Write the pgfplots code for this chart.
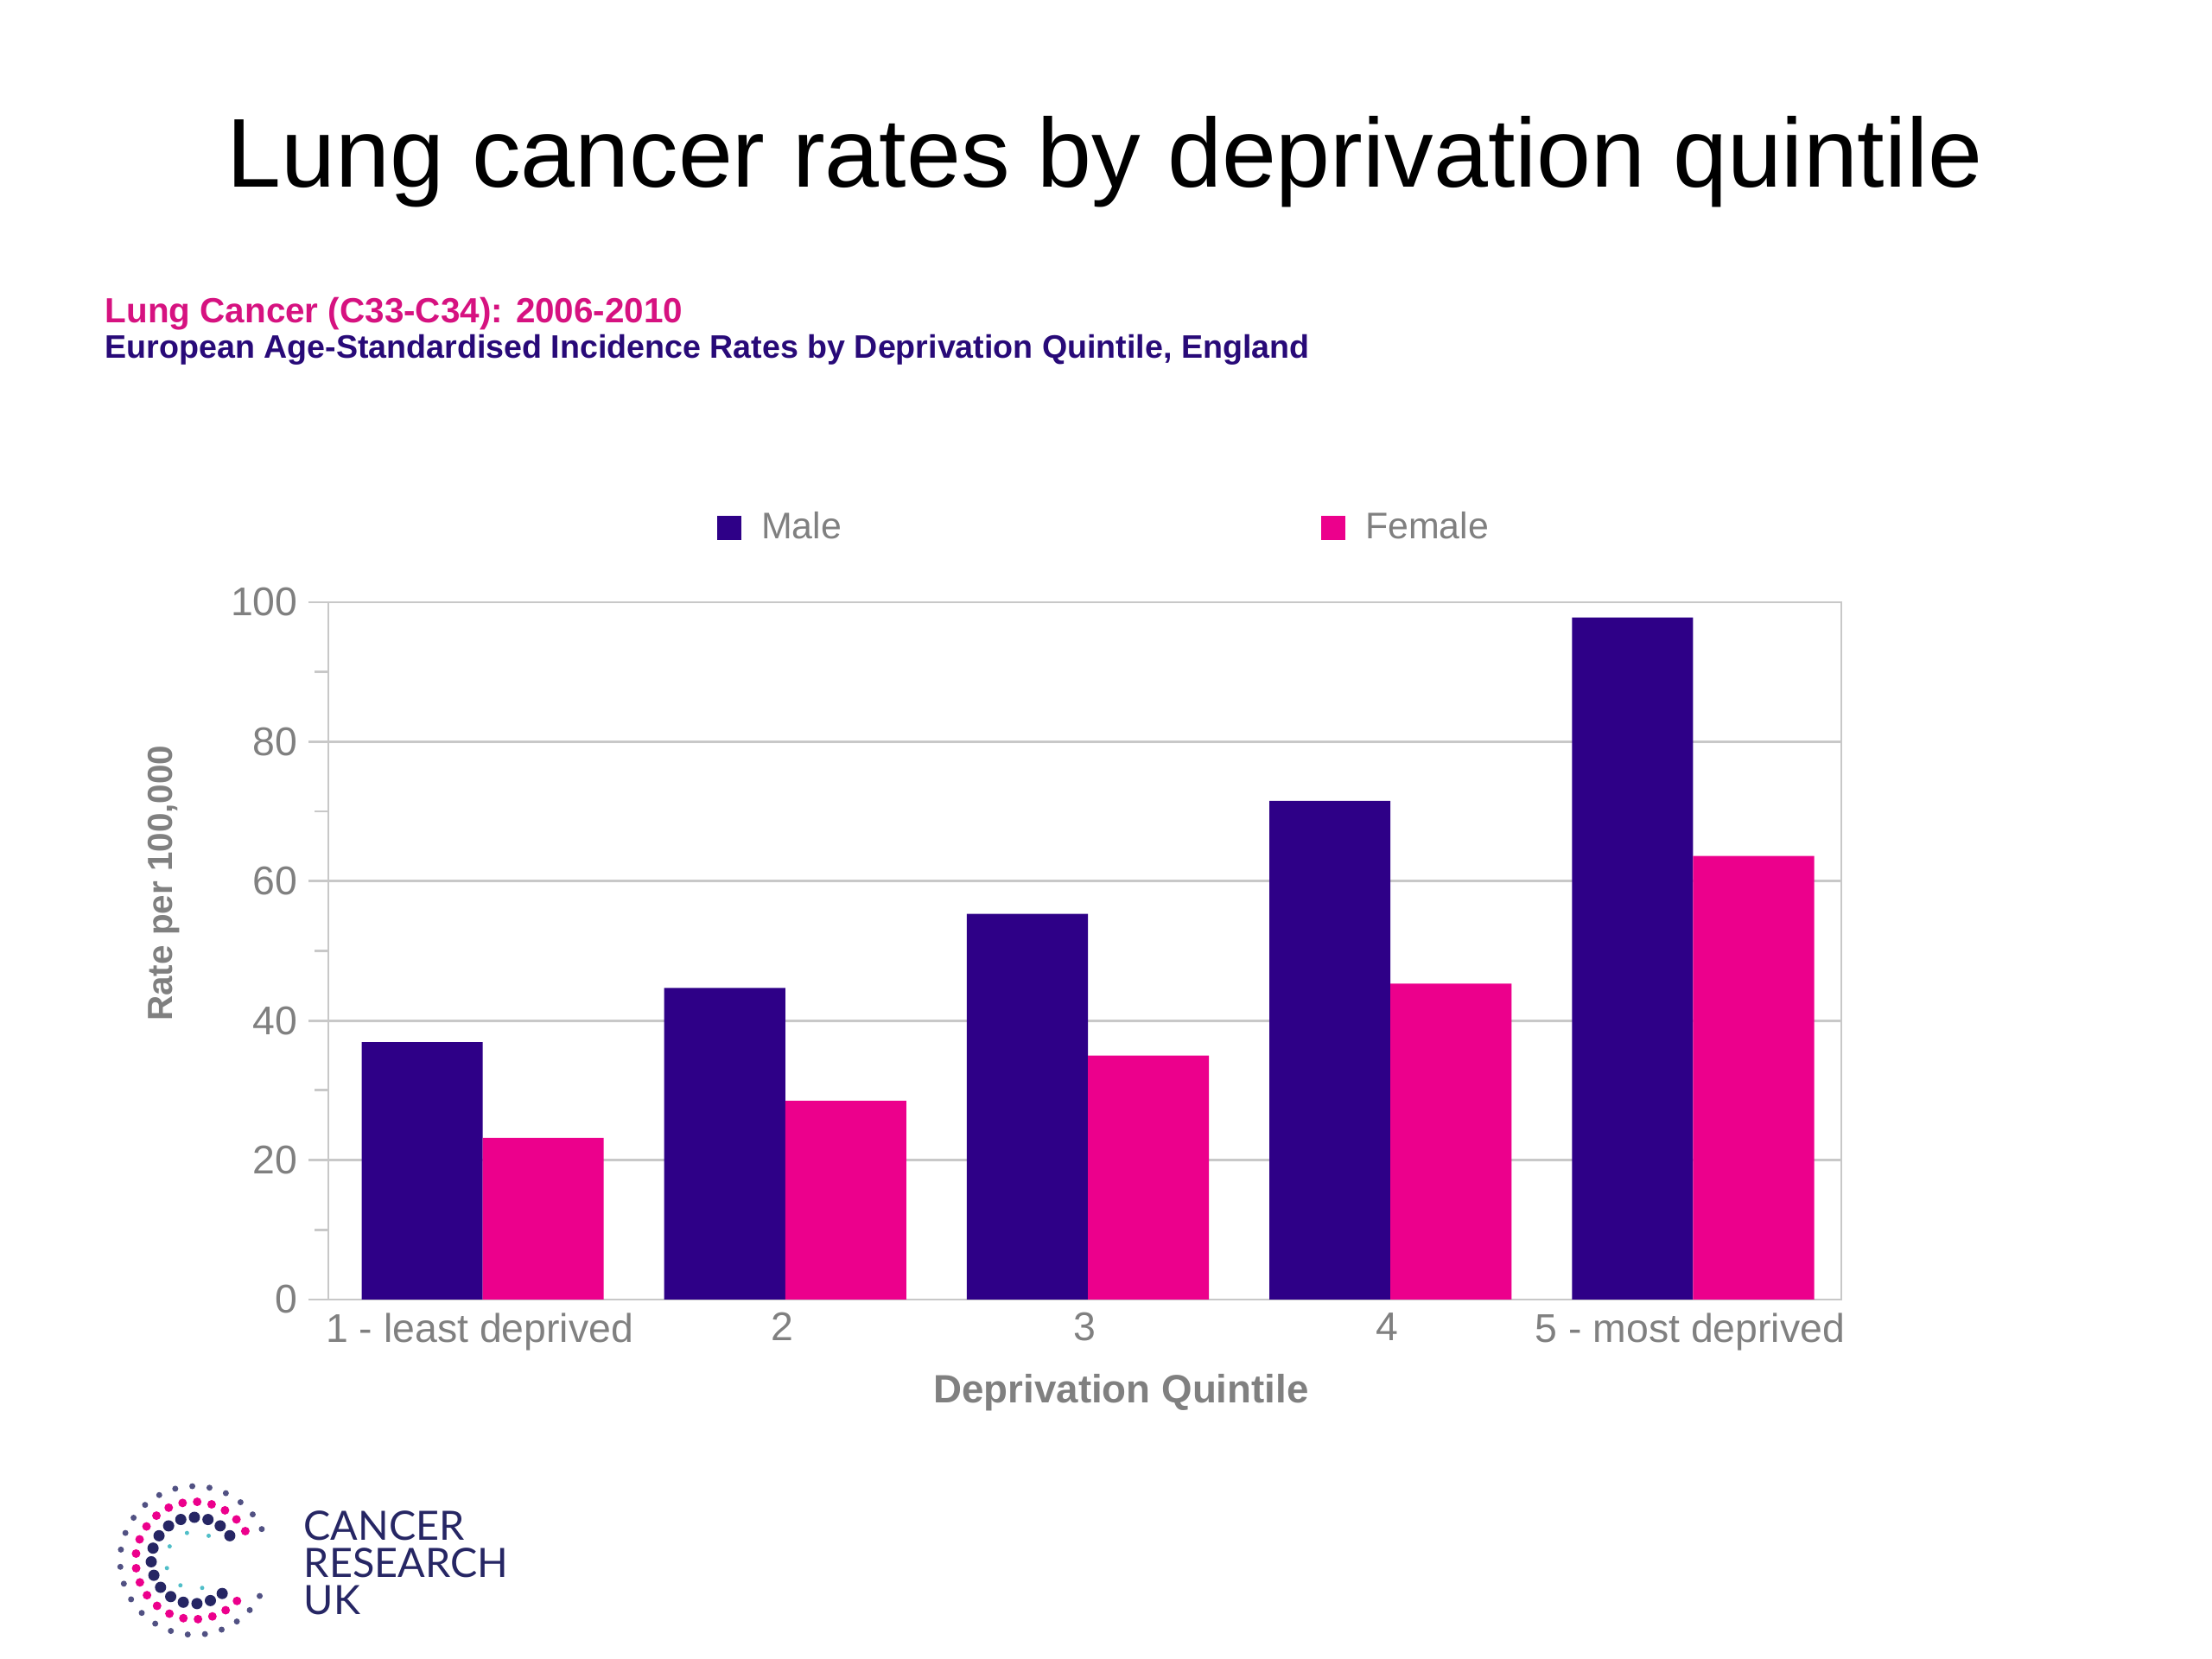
\documentclass[border=0pt]{standalone}
\usepackage{pgfplots}
\pgfplotsset{compat=1.18}
\usepackage{fontspec}
\setmainfont{Liberation Sans}
\newfontfamily\logofont{Lato}
\definecolor{male}{RGB}{46,0,135}
\definecolor{female}{RGB}{236,0,140}
\definecolor{subpink}{RGB}{214,18,128}
\definecolor{subnavy}{RGB}{40,10,120}
\definecolor{axgray}{RGB}{200,200,200}
\definecolor{txtgray}{RGB}{128,128,128}
\definecolor{logonavy}{RGB}{38,38,100}
\definecolor{logoteal}{RGB}{80,190,200}
\begin{document}
\begin{tikzpicture}
\path[use as bounding box] (0,0) rectangle (25.6,19.2);
\node[anchor=base, font=\fontsize{32.2}{38}\selectfont] at (12.79,17.03) {Lung cancer rates by deprivation quintile};
\node[anchor=base west, inner sep=0pt, font=\fontsize{11.5}{14}\selectfont\bfseries, text=subpink] at (1.21,15.46) {Lung Cancer (C33-C34): 2006-2010};
\node[anchor=base west, inner sep=0pt, font=\fontsize{10.7}{13}\selectfont\bfseries, text=subnavy] at (1.21,15.05) {European Age-Standardised Incidence Rates by Deprivation Quintile, England};
\begin{axis}[
  at={(3.80cm,4.16cm)}, anchor=south west,
  width=17.51cm, height=8.07cm, scale only axis,
  xmin=-0.5, xmax=4.5, ymin=0, ymax=100,
  xtick={0,1,2,3,4},
  xticklabels={1 - least deprived,2,3,4,5 - most deprived},
  major x tick style={draw=none},
  extra x ticks={-0.5,0.5,1.5,2.5,3.5,4.5},
  extra x tick labels={},
  extra x tick style={major tick length=2mm, tick align=outside},
  xticklabel style={yshift=2mm},
  ytick={0,20,40,60,80,100},
  ytick pos=left, xtick pos=bottom,
  minor y tick num=1,
  tick align=outside,
  major tick length=2.3mm, minor tick length=1.6mm,
  ymajorgrids, grid style={axgray, line width=0.8pt},
  axis line style={axgray, line width=0.8pt},
  every tick/.style={axgray, line width=0.8pt},
  ticklabel style={font=\fontsize{13.2}{15}\selectfont, text=txtgray},
  /pgf/number format/assume math mode=true,
  xlabel={Deprivation Quintile},
  ylabel={Rate per 100,000},
  xlabel style={at={(axis description cs:0.524,-0.134)}, anchor=center, font=\fontsize{13}{15}\selectfont\bfseries, text=txtgray},
  ylabel style={at={(axis description cs:-0.109,0.597)}, anchor=center, rotate=0, font=\fontsize{11.5}{14}\selectfont\bfseries, text=txtgray},
  legend style={at={(axis description cs:0.514,1.107)}, anchor=center, draw=none, fill=none,
    legend columns=2, font=\fontsize{12.2}{14}\selectfont, text=txtgray,
    /tikz/every even column/.append style={column sep=5.48cm}},
  legend image code/.code={\fill[#1] (0cm,-0.14cm) rectangle (0.28cm,0.14cm); \path (0.44cm,0cm);},
]
\addplot[ybar, bar width=0.4, bar shift=-0.19, fill=male, draw=none] coordinates {(0,36.9) (1,44.7) (2,55.3) (3,71.5) (4,97.8)};
\addlegendentry{Male}
\addplot[ybar, bar width=0.4, bar shift=0.21, fill=female, draw=none] coordinates {(0,23.2) (1,28.5) (2,35.0) (3,45.3) (4,63.6)};
\addlegendentry{Female}
\end{axis}
% logo (decorative)
\draw[logonavy, line width=1.3mm, line cap=round, dash pattern=on 0pt off 1.6mm] (2.25,1.14) ++(35:0.5) arc[start angle=35, end angle=325, radius=0.5];
\draw[female, line width=1.0mm, line cap=round, dash pattern=on 0pt off 1.7mm] (2.25,1.14) ++(30:0.68) arc[start angle=30, end angle=330, radius=0.68];
\draw[logonavy!80, line width=0.7mm, line cap=round, dash pattern=on 0pt off 2mm] (2.25,1.14) ++(25:0.86) arc[start angle=25, end angle=335, radius=0.86];
\draw[logoteal, line width=0.5mm, line cap=round, dash pattern=on 0pt off 2.6mm] (2.25,1.14) ++(60:0.33) arc[start angle=60, end angle=300, radius=0.33];
\node[anchor=base west, inner sep=0pt, align=left, font=\logofont\fontsize{13.3}{12.3}\selectfont, text=logonavy] at (3.51,0.51) {CANCER\\RESEARCH\\UK};
\end{tikzpicture}
\end{document}
